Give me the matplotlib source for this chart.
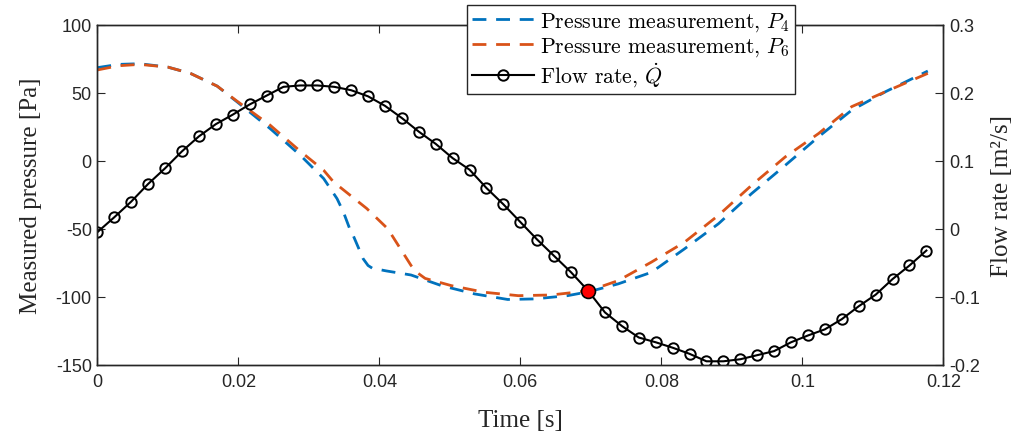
import matplotlib
matplotlib.use("Agg")
import matplotlib.pyplot as plt
import numpy as np
from matplotlib.ticker import FuncFormatter

plt.rcParams["axes.unicode_minus"] = False
plt.rcParams["mathtext.fontset"] = "cm"

# pressure probes [s], [Pa]
t_p4 = [0, 0.003, 0.006, 0.010, 0.0132, 0.017, 0.0198, 0.0245, 0.0288, 0.0321,
        0.034, 0.0349, 0.0358, 0.0363, 0.0377, 0.0384, 0.0390, 0.041, 0.0445,
        0.0488, 0.0535, 0.0582, 0.062, 0.0667, 0.0698, 0.0739, 0.0786, 0.0833,
        0.0881, 0.0928, 0.0976, 0.1023, 0.107, 0.1118, 0.1178]
p4 = [68.6, 71.0, 71.5, 69.0, 64.4, 55.0, 43.5, 23.8, 4.1, -13.0,
      -27.8, -37.6, -50.0, -55.0, -72.0, -77.0, -79.0, -81.0, -84.0,
      -91.8, -97.9, -102.0, -101.6, -99.2, -96.2, -90.5, -82.0, -64.7,
      -46.3, -24.1, -3.2, 17.7, 37.3, 50.9, 66.1]

t_p6 = [0, 0.003, 0.006, 0.010, 0.0132, 0.017, 0.0198, 0.0245, 0.0288, 0.0321,
        0.0335, 0.0382, 0.0412, 0.0445, 0.0453, 0.0465, 0.0502, 0.0549, 0.0597,
        0.0644, 0.0698, 0.0739, 0.0786, 0.0833, 0.0881, 0.0928, 0.0976, 0.1023,
        0.107, 0.1118, 0.1178]
p6 = [66.9, 70.0, 71.0, 69.0, 64.4, 55.0, 44.0, 26.3, 7.0, -6.9,
      -15.5, -35.0, -50.0, -77.0, -82.0, -86.5, -91.8, -96.7, -99.2,
      -98.7, -95.5, -88.1, -74.5, -59.8, -40.1, -18.0, 3.0, 20.1,
      39.9, 50.9, 64.4]

# flow rate samples [m^2/s], one every 2.4 ms
t_q = np.arange(50) * 0.0024
q = [-0.005, 0.017, 0.040, 0.066, 0.089, 0.114, 0.136, 0.154, 0.168, 0.183,
     0.196, 0.209, 0.211, 0.211, 0.209, 0.204, 0.195, 0.181, 0.163, 0.143,
     0.125, 0.104, 0.087, 0.060, 0.036, 0.010, -0.016, -0.040, -0.064, -0.091,
     -0.123, -0.143, -0.160, -0.167, -0.175, -0.184, -0.195, -0.195, -0.192, -0.186,
     -0.180, -0.167, -0.157, -0.148, -0.133, -0.114, -0.097, -0.074, -0.054, -0.032]
highlight = 29

x_ticks = [0, 0.02, 0.04, 0.06, 0.08, 0.1, 0.12]
p_ticks = [-150, -100, -50, 0, 50, 100]
q_ticks = [-0.2, -0.1, 0, 0.1, 0.2, 0.3]

BLUE = "#0072BD"
ORANGE = "#D95319"
AXIS = "#262626"

fig = plt.figure(figsize=(10.13, 4.39), dpi=100)
ax = fig.add_axes([0.0961, 0.167, 0.8351, 0.7738])
ax2 = ax.twinx()

l4, = ax.plot(t_p4, p4, color=BLUE, lw=2.0, dashes=(5, 3.5),
              label=r"Pressure measurement, $P_4$")
l6, = ax.plot(t_p6, p6, color=ORANGE, lw=2.0, dashes=(5, 3.5),
              label=r"Pressure measurement, $P_6$")
lq, = ax2.plot(t_q, q, color="black", lw=1.5, marker="o", ms=7.5,
               mfc="none", mec="black", mew=1.4, label=r"Flow rate, $\dot{Q}$")
ax2.plot(t_q[highlight], q[highlight], "o", ms=10, mfc="red", mec="black",
         mew=1.2, zorder=5)

ax.set_xlim(0, 0.12)
ax.set_ylim(-150, 100)
ax2.set_ylim(-0.2, 0.3)
ax.set_xticks(x_ticks)
ax.set_yticks(p_ticks)
ax2.set_yticks(q_ticks)
fmt = FuncFormatter(lambda v, _: f"{v:g}")
ax.xaxis.set_major_formatter(fmt)
ax.yaxis.set_major_formatter(fmt)
ax2.yaxis.set_major_formatter(fmt)

for a in (ax, ax2):
    for s in a.spines.values():
        s.set_color(AXIS)
        s.set_linewidth(1.0)
    for lab in a.get_xticklabels() + a.get_yticklabels():
        lab.set_fontfamily("Liberation Sans")
        lab.set_fontsize(13)
ax.tick_params(axis="x", direction="in", length=6, top=True, colors=AXIS, pad=6)
ax.tick_params(axis="y", direction="in", length=6, right=False, colors=AXIS, pad=4)
ax2.tick_params(axis="y", direction="in", length=6, left=False, colors=AXIS, pad=4)

label_font = dict(family="Liberation Serif", size=18, color=AXIS)
ax.set_xlabel("Time [s]", labelpad=14, **label_font)
ax.set_ylabel("Measured pressure [Pa]", labelpad=10, **label_font)
ax2.set_ylabel("Flow rate [m²/s]", labelpad=8, **label_font)

leg = ax2.legend(handles=[l4, l6, lq], loc="upper left",
                 bbox_to_anchor=(0.461, 0.986), bbox_transform=fig.transFigure,
                 borderaxespad=0, fancybox=False, framealpha=1,
                 edgecolor=AXIS, handlelength=2.84, handletextpad=0.3,
                 labelspacing=0.12, borderpad=0.22,
                 prop=dict(family="cmr10", size=15.7))
leg.get_frame().set_linewidth(1.0)

fig.savefig("out.png", dpi=100)
